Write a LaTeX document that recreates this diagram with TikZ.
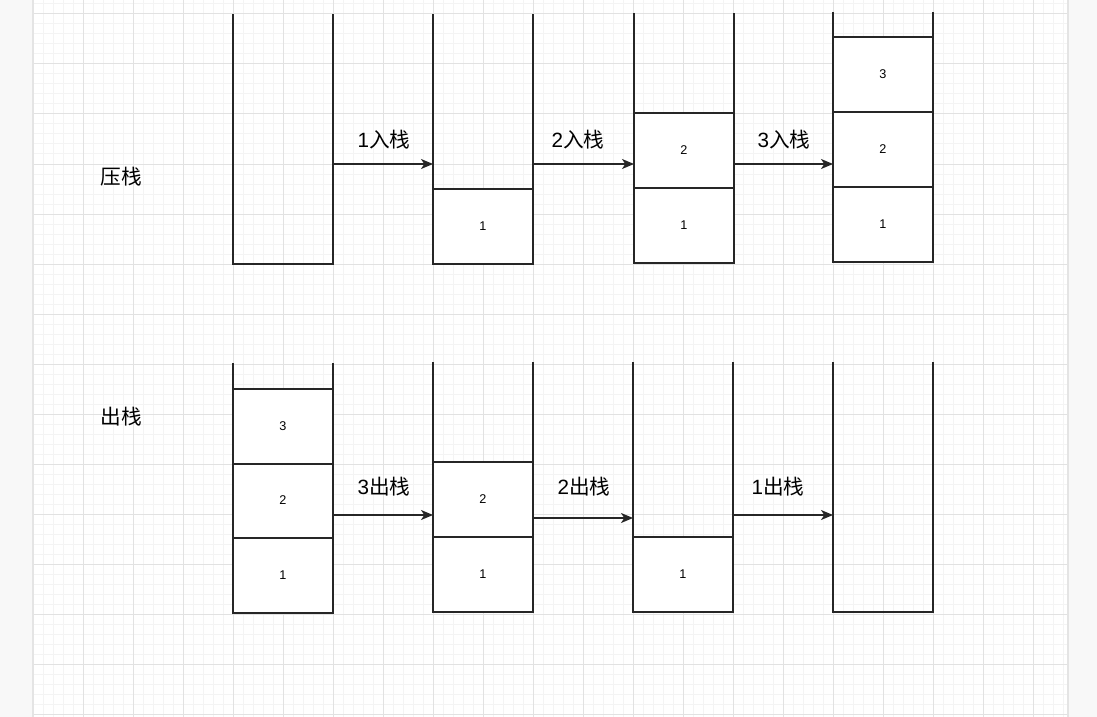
\documentclass[tikz,border=0pt]{standalone}
\usepackage{fontspec}
\setmainfont{Liberation Sans}
\newfontfamily\cjk{Noto Sans CJK SC}
\usetikzlibrary{arrows.meta,calc}
\definecolor{outside}{HTML}{F8F8F8}
\definecolor{minorgrid}{HTML}{F4F4F4}
\definecolor{majorgrid}{HTML}{E2E2E2}
\definecolor{edgeline}{HTML}{E4E4E4}
\definecolor{ink}{HTML}{262626}
\tikzset{
  stackframe/.style={minimum width=75pt,minimum height=187.5pt,inner sep=0pt,outer sep=0pt},
  wall/.style={draw=ink,line width=0.85pt},
  cell/.style={draw=ink,line width=0.85pt,fill=white,minimum width=75pt,minimum height=56.25pt,inner sep=0pt,outer sep=0pt,font=\fontsize{9.5}{11}\selectfont},
  flow/.style={draw=ink,line width=0.85pt,-{Stealth[length=9pt,width=7.5pt,inset=2.5pt]}},
  lbl/.style={inner sep=0pt,font=\fontsize{15.5}{18}\selectfont},
}
\begin{document}
\begin{tikzpicture}[x=0.75pt,y=-0.75pt]
\useasboundingbox (0,0) rectangle (1097,717);
\fill[outside] (0,0) rectangle (1097,717);
\fill[white] (33,0) rectangle (1068,717);
% grid
\foreach \gx in {43,53,...,1063} \draw[minorgrid,line width=0.75pt] (\gx,0) -- (\gx,717);
\foreach \gy in {4,14,...,714} \draw[minorgrid,line width=0.75pt] (33,\gy) -- (1068,\gy);
\foreach \gx in {83,133,...,1033} \draw[majorgrid,line width=0.75pt] (\gx,0) -- (\gx,717);
\foreach \gy in {14,64,...,714} \draw[majorgrid,line width=0.75pt] (33,\gy) -- (1068,\gy);
\draw[edgeline,line width=1.5pt] (33,0) -- (33,717);
\draw[edgeline,line width=1.5pt] (1068,0) -- (1068,717);

% section labels
\node[lbl] (push) at (121,177) {\cjk 压栈};
\node[lbl] (pop) at (121,417) {\cjk 出栈};

% ---- top row (push) ----
\node[stackframe] (a) at (283,139) {};
\node[stackframe] (b) at (483,139) {};
\node[stackframe] (c) at (684,138) {};
\node[stackframe] (d) at (883,137) {};
\foreach \s in {a,b,c,d}
  \draw[wall] (\s.north west) -- (\s.south west) -- (\s.south east) -- (\s.north east);

\node[cell] (b1) at (483,226.5) {1};
\node[cell] (c1) at (684,225.5) {1};
\node[cell] (c2) at (684,150.5) {2};
\node[cell] (d1) at (883,224.5) {1};
\node[cell] (d2) at (883,149.5) {2};
\node[cell] (d3) at (883,74.5) {3};

\draw[flow] ($(a.east)+(0,25)$) -- ($(b.west)+(0,25)$);
\draw[flow] ($(b.east)+(0,25)$) -- ($(c.west)+(0,26)$);
\draw[flow] ($(c.east)+(0,26)$) -- ($(d.west)+(0,27)$);
\node[lbl] (la) at (384,140) {1{\cjk 入栈}};
\node[lbl] (lb) at (578,140) {2{\cjk 入栈}};
\node[lbl] (lc) at (784,140) {3{\cjk 入栈}};

% ---- bottom row (pop) ----
\node[stackframe] (e) at (283,488) {};
\node[stackframe] (f) at (483,487) {};
\node[stackframe] (g) at (683,487) {};
\node[stackframe] (h) at (883,487) {};
\foreach \s in {e,f,g,h}
  \draw[wall] (\s.north west) -- (\s.south west) -- (\s.south east) -- (\s.north east);

\node[cell] (e1) at (283,575.5) {1};
\node[cell] (e2) at (283,500.5) {2};
\node[cell] (e3) at (283,426.5) {3};
\node[cell] (f1) at (483,574.5) {1};
\node[cell] (f2) at (483,499.5) {2};
\node[cell] (g1) at (683,574.5) {1};

\draw[flow] ($(e.east)+(0,27)$) -- ($(f.west)+(0,28)$);
\draw[flow] ($(f.east)+(0,31)$) -- ($(g.west)+(0,31)$);
\draw[flow] ($(g.east)+(0,28)$) -- ($(h.west)+(0,28)$);
\node[lbl] (le) at (384,487) {3{\cjk 出栈}};
\node[lbl] (lf) at (584,487) {2{\cjk 出栈}};
\node[lbl] (lg) at (778,487) {1{\cjk 出栈}};
\end{tikzpicture}
\end{document}
